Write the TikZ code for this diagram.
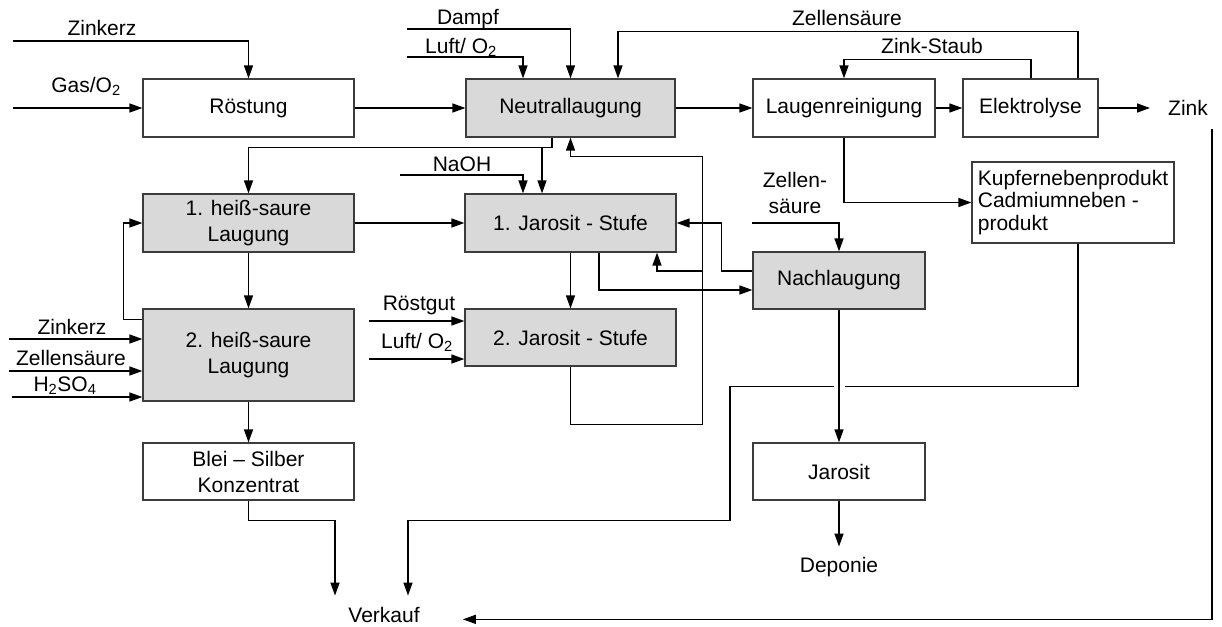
\documentclass[tikz,border=0pt]{standalone}
\usepackage{fontspec}
\setmainfont{Liberation Sans}
\usetikzlibrary{arrows.meta}
\definecolor{boxgray}{RGB}{217,217,217}
\definecolor{edgegray}{RGB}{60,60,60}
\begin{document}
\begin{tikzpicture}[x=1pt,y=-1pt,
  font=\fontsize{21}{26}\selectfont,
  box/.style={draw=edgegray, line width=1.2pt, fill=white, inner sep=0pt, align=center},
  shaded/.style={box, fill=boxgray},
  sz/.style 2 args={minimum width=#1pt, minimum height=#2pt},
  lbl/.style={inner sep=0pt, anchor=base},
  flow/.style={line width=1.4pt, -{Triangle[length=13pt,width=9pt]}},
  pipe/.style={line width=1.4pt}
]
\useasboundingbox (0,0) rectangle (1222,626);

% process units
\node[box,    sz={211}{58}] (roest)   at (248.5,108)   {Röstung};
\node[shaded, sz={209}{58}] (neutral) at (570.5,108)   {Neutrallaugung};
\node[box,    sz={182}{58}] (laugen)  at (844,108)     {Laugenreinigung};
\node[box,    sz={135}{58}] (elektro) at (1030.5,108)  {Elektrolyse};
\node[shaded, sz={211}{58}] (heiss1)  at (248.5,223)   {1. heiß-saure\\Laugung};
\node[shaded, sz={211}{58}] (jaro1)   at (570.5,223)   {1. Jarosit - Stufe};
\node[box,    sz={202}{81}, align=left, font=\fontsize{21}{22.5}\selectfont] (kupfer) at (1073,202.5)
  {Kupfernebenprodukt\\Cadmiumneben -\\produkt};
\node[shaded, sz={172}{57}] (nach)    at (839,280.5)   {Nachlaugung};
\node[shaded, sz={211}{92}] (heiss2)  at (248.5,355)   {2. heiß-saure\\Laugung};
\node[shaded, sz={211}{57}] (jaro2)   at (570.5,337.5) {2. Jarosit - Stufe};
\node[box,    sz={211}{57}] (blei)    at (248.5,471.5) {Blei – Silber\\Konzentrat};
\node[box,    sz={172}{57}] (jarosit) at (839,471.5)   {Jarosit};

% products
\node[inner sep=0pt, anchor=west] (zink) at (1168,108) {Zink};
\node[lbl] (deponie) at (839,572) {Deponie};
\node[lbl] (verkauf) at (384,622) {Verkauf};

% stream labels
\node[lbl] (t-zk1)  at (102,36)  {Zinkerz};
\node[lbl] (t-gas)  at (86,92)   {Gas/O\textsubscript{2}};
\node[lbl] (t-dampf) at (468,25) {Dampf};
\node[lbl] (t-luft1) at (461,53) {Luft/ O\textsubscript{2}};
\node[lbl] (t-zs1)  at (847,26)  {Zellensäure};
\node[lbl] (t-staub) at (932,53) {Zink-Staub};
\node[lbl] (t-naoh) at (462,171) {NaOH};
\node[inner sep=0pt, align=center] (t-zs3) at (795,193) {Zellen-\\säure};
\node[lbl] (t-rg)   at (419,310) {Röstgut};
\node[lbl] (t-luft2) at (417,348) {Luft/ O\textsubscript{2}};
\node[lbl] (t-zk2)  at (72,334)  {Zinkerz};
\node[lbl] (t-zs2)  at (71,365)  {Zellensäure};
\node[lbl] (t-h2so4) at (65,391) {H\textsubscript{2}SO\textsubscript{4}};

% free ends of the feed streams
\coordinate (in-zk1)   at (13,41);
\coordinate (in-gas)   at (13,108);
\coordinate (in-dampf) at (407,29);
\coordinate (in-luft1) at (407,57);
\coordinate (in-naoh)  at (400,175);
\coordinate (in-zs3)   at (752,223);
\coordinate (in-zk2)   at (9,339);
\coordinate (in-zs2)   at (9,371);
\coordinate (in-h2so4) at (12,397);
\coordinate (in-rg)    at (369,321);
\coordinate (in-luft2) at (369,359);
% branch points
\coordinate (nsplit) at (542,147);
\coordinate (jsplit) at (703,271);
\coordinate (xing)   at (839,386);

% roasting and neutral leach
\draw[flow] (in-zk1) -| (roest.north);
\draw[flow] (in-gas) -- (roest.west);
\draw[flow] (roest.east) -- (neutral.west);
\draw[flow] (in-dampf) -| (neutral.north);
\draw[flow] (in-luft1) -| ([xshift=-47.5pt]neutral.north);
\draw[flow] ([xshift=47.5pt]elektro.north) -- ++(0,-47) -| ([xshift=47.5pt]neutral.north);
\draw[flow] ([xshift=0.5pt]elektro.north) -- ++(0,-19) -| (laugen.north);
\draw[flow] (neutral.east) -- (laugen.west);
\draw[flow] (laugen.east) -- (elektro.west);
\draw[flow] (elektro.east) -- ([xshift=-18pt]zink.west);
\draw[flow] (laugen.south) |- (kupfer.west);

% neutral leach residue
\draw[flow] ([xshift=-18.5pt]neutral.south) -- ++(0,10) -| (heiss1.north);
\draw[flow] (nsplit) -- (nsplit |- jaro1.north);
\draw[flow] (in-naoh) -| ([xshift=-47.5pt]jaro1.north);

% hot acid leaching
\draw[flow] (heiss1.east) -- (jaro1.west);
\draw[flow] (heiss1.south) -- (heiss2.north);
\draw[flow] ([yshift=-11pt]heiss2.north west) -- ++(-19,0) |- (heiss1.west);
\draw[flow] (in-zk2) -- (in-zk2 -| heiss2.west);
\draw[flow] (in-zs2) -- (in-zs2 -| heiss2.west);
\draw[flow] (in-h2so4) -- (in-h2so4 -| heiss2.west);
\draw[flow] (heiss2.south) -- (blei.north);

% jarosite stages
\draw[flow] (jaro1.south) -- (jaro2.north);
\draw[flow] (in-rg) -- (in-rg -| jaro2.west);
\draw[flow] (in-luft2) -- (in-luft2 -| jaro2.west);
\draw[flow] ([xshift=28.5pt]jaro1.south) |- ([yshift=-9.5pt]nach.west);
\draw[flow] ([yshift=9.5pt]nach.west) -- ++(-31,0) |- (jaro1.east);
\draw[flow] (jaro2.south) -- ++(0,58) -- ++(132,0) -- ++(0,-268) -| (neutral.south);
\draw[flow] (jsplit) -| ([xshift=86.5pt]jaro1.south);
\draw[flow] (in-zs3) -| (nach.north);

% products to sale and disposal
\draw[flow] (blei.south) -- ++(0,20) -| ([xshift=-49pt,yshift=11pt]verkauf.north);
\draw[flow] ([xshift=5pt]kupfer.south) -- ++(0,143) -- ++(-348,0) -- ++(0,134)
  -| ([xshift=24pt,yshift=11pt]verkauf.north);
\fill[white] ([xshift=-5.5pt,yshift=4pt]xing) rectangle ([xshift=5.5pt,yshift=-4pt]xing);
\draw[flow] (nach.south) -- (jarosit.north);
\draw[flow] (jarosit.south) -- ([yshift=10pt]deponie.north);
\draw[flow] ([xshift=4pt,yshift=-13pt]zink.south east) |- ([xshift=43pt]verkauf.mid east);
\end{tikzpicture}
\end{document}
